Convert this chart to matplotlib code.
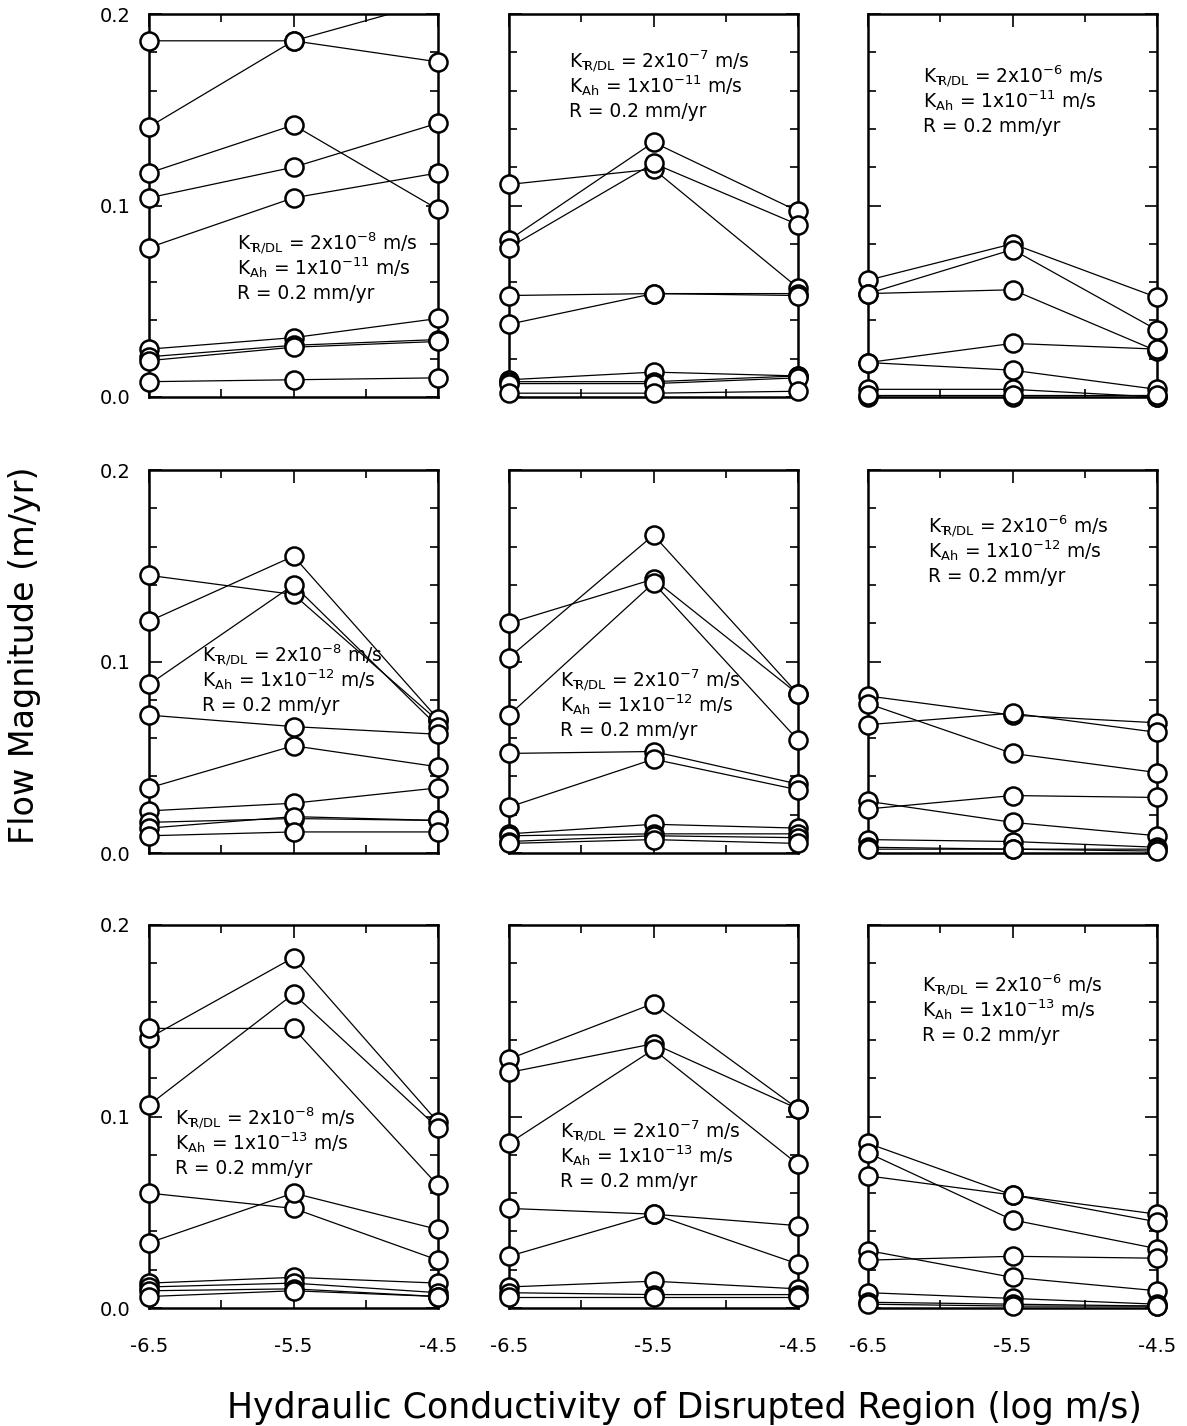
import numpy as np
import matplotlib
matplotlib.use('Agg')
import matplotlib.pyplot as plt
from matplotlib.transforms import Bbox, TransformedBbox
from matplotlib.ticker import MultipleLocator, FixedLocator, FormatStrFormatter

plt.rcParams['font.family'] = 'DejaVu Sans'
plt.rcParams['mathtext.default'] = 'regular'

# x axis: log10 of hydraulic conductivity of disrupted region
log_k = [-6.5, -5.5, -4.5]

# flow magnitudes (m/yr), one list per curve
# rows: K_Ah = 1e-11, 1e-12, 1e-13 ; columns: K_TR/DL = 2e-8, 2e-7, 2e-6
flow_8_11 = [[0.186, 0.186, 0.175], [0.141, 0.186, 0.207], [0.117, 0.142, 0.098],
             [0.104, 0.120, 0.143], [0.078, 0.104, 0.117], [0.025, 0.031, 0.041],
             [0.021, 0.027, 0.030], [0.019, 0.026, 0.029], [0.008, 0.009, 0.010]]
flow_7_11 = [[0.111, 0.119, 0.057], [0.082, 0.133, 0.097], [0.078, 0.122, 0.090],
             [0.053, 0.054, 0.054], [0.038, 0.054, 0.053], [0.009, 0.013, 0.011],
             [0.008, 0.008, 0.011], [0.007, 0.007, 0.010], [0.002, 0.002, 0.003]]
flow_6_11 = [[0.061, 0.080, 0.052], [0.054, 0.077, 0.035], [0.054, 0.056, 0.024],
             [0.018, 0.028, 0.025], [0.018, 0.014, 0.004], [0.004, 0.004, 0.000],
             [0.000, 0.000, 0.000], [0.001, 0.001, 0.001]]
flow_8_12 = [[0.145, 0.135, 0.069], [0.121, 0.155, 0.070], [0.088, 0.140, 0.066],
             [0.072, 0.066, 0.062], [0.034, 0.056, 0.045], [0.022, 0.026, 0.034],
             [0.016, 0.018, 0.017], [0.013, 0.019, 0.017], [0.009, 0.011, 0.011]]
flow_7_12 = [[0.120, 0.143, 0.083], [0.102, 0.166, 0.083], [0.072, 0.141, 0.059],
             [0.052, 0.053, 0.036], [0.024, 0.049, 0.033], [0.010, 0.015, 0.013],
             [0.009, 0.010, 0.010], [0.006, 0.009, 0.008], [0.005, 0.007, 0.005]]
flow_6_12 = [[0.082, 0.072, 0.068], [0.078, 0.052, 0.042], [0.067, 0.073, 0.063],
             [0.027, 0.016, 0.009], [0.023, 0.030, 0.029], [0.007, 0.006, 0.003],
             [0.003, 0.002, 0.002], [0.002, 0.002, 0.001]]
flow_8_13 = [[0.141, 0.183, 0.097], [0.106, 0.164, 0.094], [0.146, 0.146, 0.064],
             [0.060, 0.052, 0.025], [0.034, 0.060, 0.041], [0.013, 0.016, 0.013],
             [0.011, 0.013, 0.008], [0.009, 0.010, 0.006], [0.006, 0.009, 0.006]]
flow_7_13 = [[0.130, 0.159, 0.104], [0.123, 0.138, 0.104], [0.086, 0.135, 0.075],
             [0.052, 0.049, 0.043], [0.027, 0.049, 0.023], [0.011, 0.014, 0.010],
             [0.008, 0.007, 0.007], [0.006, 0.006, 0.006]]
flow_6_13 = [[0.086, 0.059, 0.049], [0.081, 0.046, 0.031], [0.069, 0.059, 0.045],
             [0.030, 0.016, 0.009], [0.025, 0.027, 0.026], [0.008, 0.005, 0.002],
             [0.003, 0.002, 0.001], [0.002, 0.001, 0.001]]

panels = [[flow_8_11, flow_7_11, flow_6_11],
          [flow_8_12, flow_7_12, flow_6_12],
          [flow_8_13, flow_7_13, flow_6_13]]

k_trdl = ['2x10$^{-8}$', '2x10$^{-7}$', '2x10$^{-6}$']
k_ah = ['1x10$^{-11}$', '1x10$^{-12}$', '1x10$^{-13}$']
recharge = 'R = 0.2 mm/yr'

# where the three-line note sits in each panel (axes fraction, first baseline)
note_pos = [[(0.305, 0.383), (0.208, 0.858), (0.19, 0.819)],
            [(0.183, 0.498), (0.176, 0.433), (0.207, 0.835)],
            [(0.09, 0.477), (0.176, 0.443), (0.186, 0.824)]]

W, H = 1187, 1426
fig = plt.figure(figsize=(W / 100, H / 100), dpi=100)

lefts = [149, 509, 868]
bottoms = [397, 853, 1308]
aw, ah = 289, 383

for r in range(3):
    for c in range(3):
        ax = fig.add_axes([lefts[c] / W, 1 - bottoms[r] / H, aw / W, ah / H])
        clip = TransformedBbox(Bbox([[-0.2, -0.2], [1.2, 1.0]]), ax.transAxes)
        for ys in panels[r][c]:
            ys = np.array(ys)
            ln, = ax.plot(log_k, ys, '-', color='black', lw=0.9, zorder=3)
            ln.set_clip_box(clip)
            ym = np.where(ys > 0.2, np.nan, ys)
            ax.plot(log_k, ym, 'o', ms=13, mfc='white', mec='black', mew=1.8,
                    clip_on=False, zorder=3)

        ax.set_xlim(-6.5, -4.5)
        ax.set_ylim(0, 0.2)
        ax.xaxis.set_major_locator(FixedLocator([-6.5, -5.5, -4.5]))
        ax.xaxis.set_minor_locator(FixedLocator([-6.0, -5.0]))
        ax.yaxis.set_major_locator(MultipleLocator(0.1))
        ax.yaxis.set_minor_locator(MultipleLocator(0.02))
        ax.yaxis.set_major_formatter(FormatStrFormatter('%.1f'))
        ax.xaxis.set_major_formatter(FormatStrFormatter('%.1f'))
        ax.tick_params(which='both', direction='in', top=True, right=True,
                       width=1.2, labelsize=14)
        ax.tick_params(which='major', length=9)
        ax.tick_params(which='minor', length=6)
        ax.tick_params(axis='x', pad=21)
        ax.tick_params(axis='y', pad=13)
        for sp in ax.spines.values():
            sp.set_linewidth(1.8)
        if c != 0:
            ax.tick_params(axis='y', labelleft=False)
        if r != 2:
            ax.tick_params(axis='x', labelbottom=False)

        fx, fy = note_pos[r][c]
        lines = [r'K$_{T\!\!\!R/DL}$ = ' + k_trdl[c] + ' m/s',
                 r'K$_{Ah}$ = ' + k_ah[r] + ' m/s',
                 recharge]
        for i, s in enumerate(lines):
            ax.annotate(s, xy=(fx, fy), xycoords='axes fraction',
                        xytext=(0, -17.5 * i), textcoords='offset points',
                        ha='left', va='baseline', fontsize=13.4, zorder=5)

fig.text(684 / W, 1 - 1418 / H, 'Hydraulic Conductivity of Disrupted Region (log m/s)',
         ha='center', va='baseline', fontsize=25)
fig.text(25 / W, 1 - 655 / H, 'Flow Magnitude (m/yr)', rotation=90,
         ha='center', va='center', fontsize=24)

fig.savefig('out.png', dpi=100)
